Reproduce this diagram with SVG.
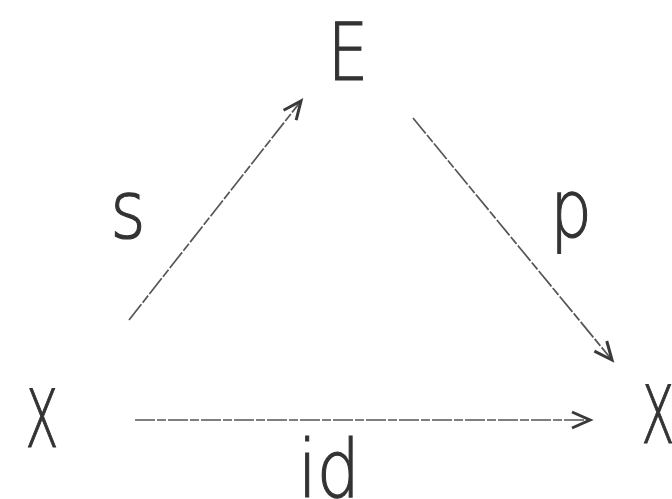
<svg xmlns="http://www.w3.org/2000/svg" width="672" height="499" viewBox="0 0 672 499">
<style>
.lbl{font-family:"DejaVu Sans","Liberation Sans",sans-serif;font-size:80px;font-weight:200;fill:#333;stroke:#333;stroke-width:1.2;text-anchor:middle}
.edge{stroke:#555;stroke-width:1.7;fill:none;stroke-dasharray:20 2 9 2}
</style>
<defs>
<marker id="ah" markerUnits="userSpaceOnUse" markerWidth="30" markerHeight="30" refX="20" refY="10" orient="auto" viewBox="0 0 30 20">
<path d="M2,2 L20,10 L2,18" fill="none" stroke="#3a3a3a" stroke-width="3" stroke-linejoin="miter"/>
</marker>
</defs>
<rect width="672" height="499" fill="#fff"/>
<g id="connectors">
<line class="edge" x1="129" y1="320" x2="301" y2="101" marker-end="url(#ah)"/>
<line class="edge" x1="413" y1="118" x2="612" y2="360" marker-end="url(#ah)"/>
<line class="edge" x1="135" y1="420" x2="590" y2="420" marker-end="url(#ah)"/>
</g>
<g id="node-E"><text class="lbl" transform="translate(348,80) scale(0.8,1)">E</text></g>
<g id="node-X-left"><text class="lbl" transform="translate(42,447) scale(0.6,1)">X</text></g>
<g id="node-X-right"><text class="lbl" transform="translate(658,443) scale(0.6,1)">X</text></g>
<g id="label-s"><text class="lbl" transform="translate(128,238) scale(0.85,1)">s</text></g>
<g id="label-p"><text class="lbl" transform="translate(571,237) scale(0.82,1)">p</text></g>
<g id="label-id"><text class="lbl" transform="translate(329,497) scale(0.85,1)">id</text></g>
</svg>
